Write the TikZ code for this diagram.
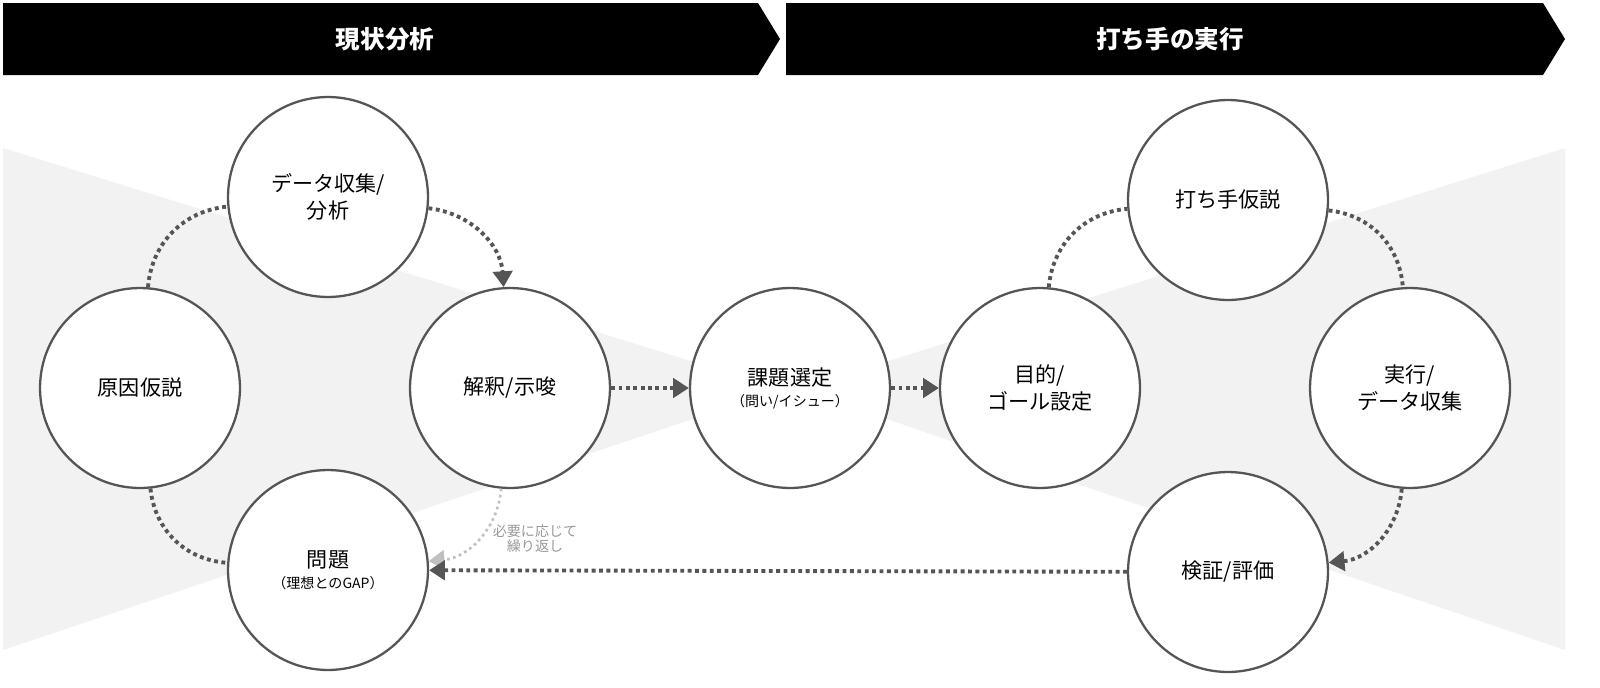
\documentclass[tikz,border=0pt]{standalone}
\usepackage{fontspec}
\setmainfont{Noto Sans CJK JP}
\usetikzlibrary{arrows.meta}
\definecolor{bggray}{HTML}{F2F2F2}
\definecolor{linegray}{HTML}{555555}
\tikzset{
  stage/.style={circle,draw=linegray,line width=1.3pt,fill=white,minimum size=4cm,align=center,font=\fontsize{12}{15}\selectfont},
  loop/.style={linegray,dotted,line width=2.2pt},
  flow/.style={loop,-{Triangle[length=9pt,width=11pt]}},
  banner/.style={fill=black,text=white,font=\bfseries\fontsize{14}{16}\selectfont}
}
\begin{document}
\begin{tikzpicture}[x=0.02cm,y=-0.02cm]
   \useasboundingbox (0,0) rectangle (1600,687);
   % background and headings
   \fill[bggray] (3,148) -- (720,370) -- (720,410) -- (3,650) -- cycle;
   \fill[bggray] (1565,148) -- (860,370) -- (860,410) -- (1565,650) -- cycle;
   \fill[black] (3,3) -- (758,3) -- (780,39) -- (758,75) -- (3,75) -- cycle;
   \fill[black] (786,3) -- (1543,3) -- (1565,39) -- (1543,75) -- (786,75) -- cycle;
   \node[banner] (h1) at (385,39) {現状分析};
   \node[banner] (h2) at (1170,39) {打ち手の実行};

   \node[stage] (data) at (328,197) {データ収集/\\分析};
   \node[stage] (cause) at (140,388) {原因仮説};
   \node[stage] (interp) at (510,388) {解釈/示唆};
   \node[stage] (prob) at (328,570) {問題\\[-3pt]{\fontsize{8}{10}\selectfont（理想とのGAP）}};
   \node[stage] (issue) at (790,388) {課題選定\\[-3pt]{\fontsize{8}{10}\selectfont（問い/イシュー）}};
   \node[stage] (goal) at (1040,388) {目的/\\ゴール設定};
   \node[stage] (plan) at (1228,200) {打ち手仮説};
   \node[stage] (exec) at (1410,388) {実行/\\データ収集};
   \node[stage] (eval) at (1228,572) {検証/評価};

   \draw[loop] (cause) to[bend left=40] (data);
   \draw[flow] (data) to[bend left=40] (interp);
   \draw[loop] (cause) to[bend right=40] (prob);
   \draw[flow,black!25,line width=1.5pt] (interp) to[bend left=40]
      node[right=4pt,pos=0.5,text=black!40,align=center,font=\fontsize{8}{9}\selectfont] {必要に応じて\\繰り返し} (prob);
   \draw[flow] (interp) -- (issue);
   \draw[flow] (issue) -- (goal);
   \draw[loop] (goal) to[bend left=40] (plan);
   \draw[loop] (plan) to[bend left=40] (exec);
   \draw[flow] (exec) to[bend left=40] (eval);
   \draw[flow] (eval) -- (prob);
\end{tikzpicture}
\end{document}
